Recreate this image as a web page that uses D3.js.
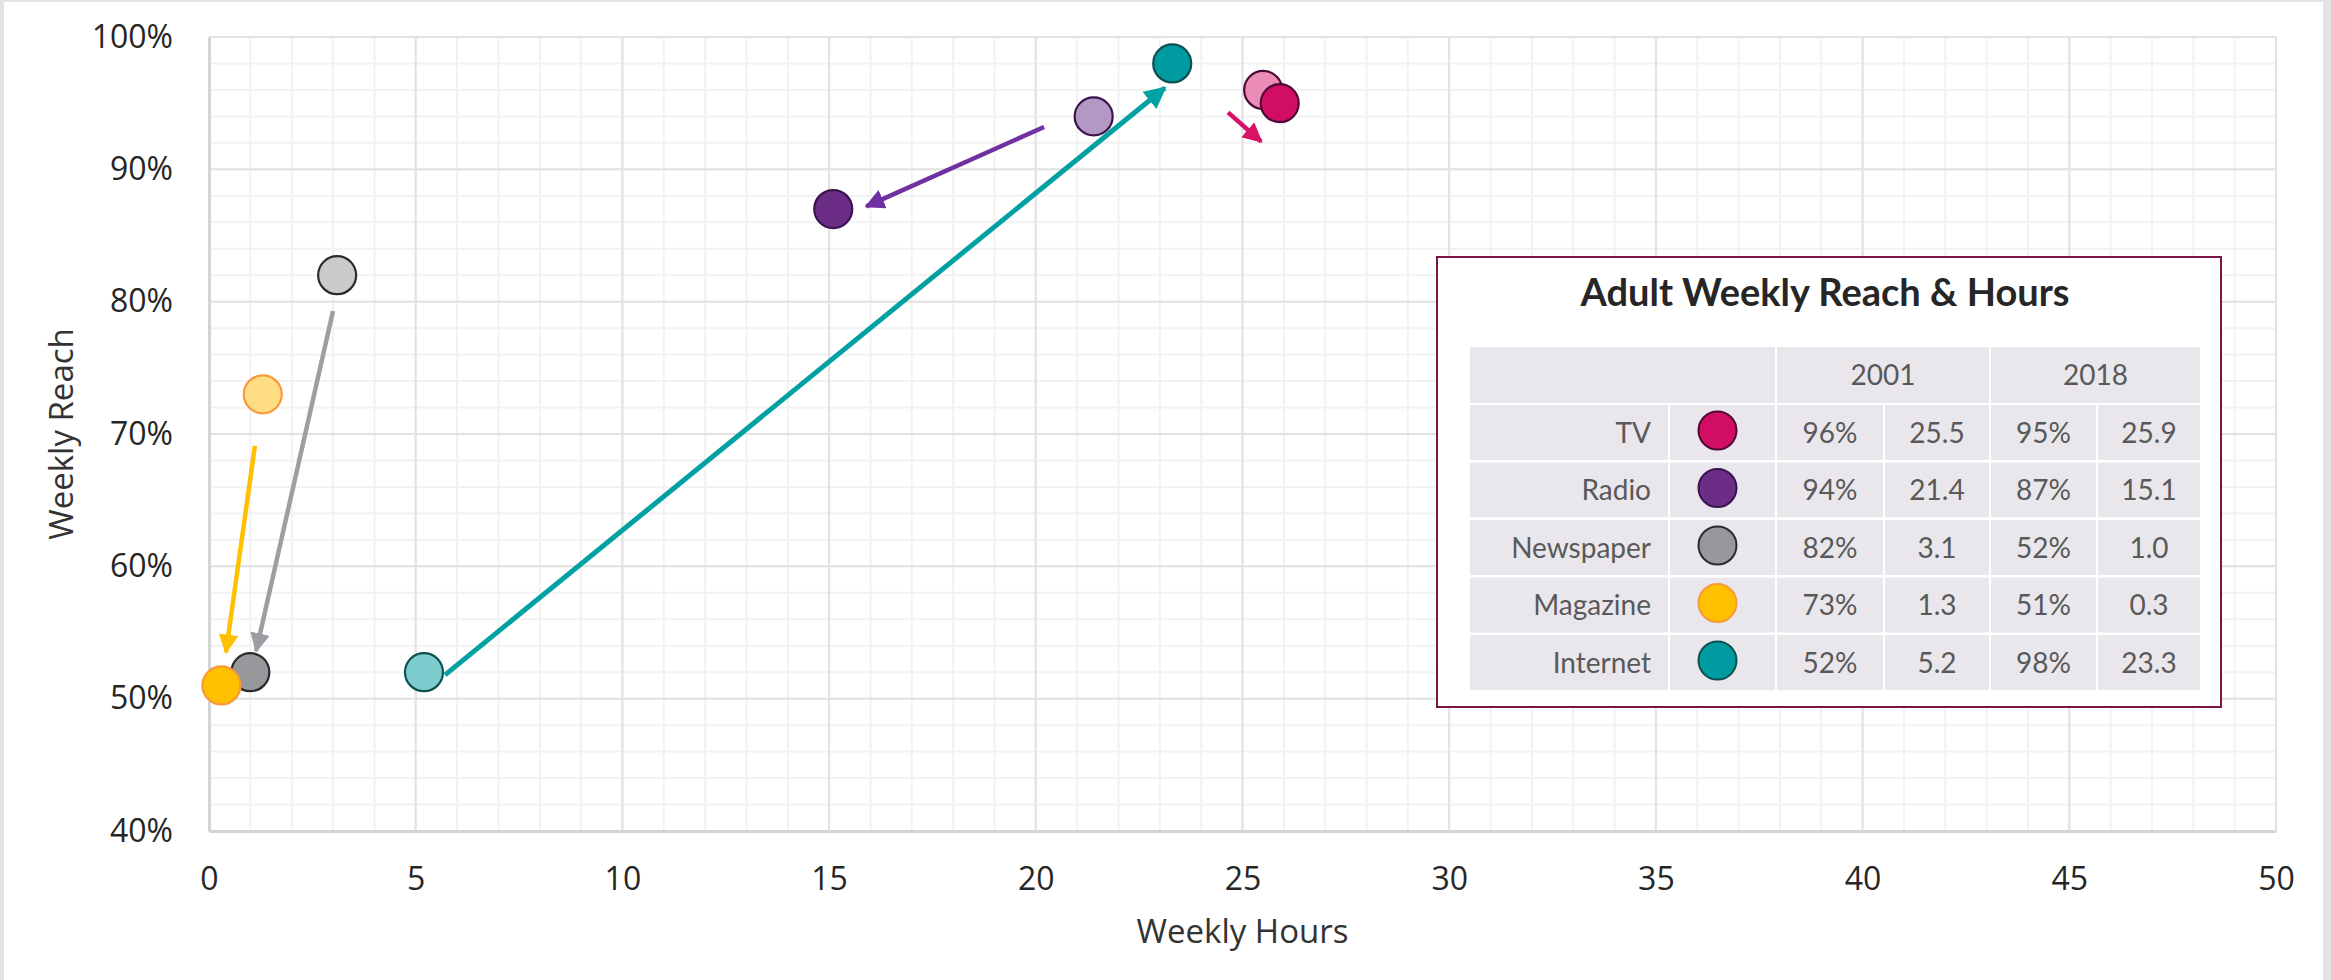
<!DOCTYPE html>
<html>
<head>
<meta charset="utf-8">
<script src="https://cdn.jsdelivr.net/npm/d3@7"></script>
<style>
  body { margin: 0; background: #e4e4e6; }
  svg { display: block; }
</style>
</head>
<body>
<div id="chart"></div>
<script>
var width = 2331, height = 980
var margin = { left: 209, right: 55, top: 37, bottom: 149 }

// data
var media = ["TV", "Radio", "Newspaper", "Magazine", "Internet"]
var reach2001 = [0.96, 0.94, 0.82, 0.73, 0.52]
var hours2001 = [25.5, 21.4, 3.1, 1.3, 5.2]
var reach2018 = [0.95, 0.87, 0.52, 0.51, 0.98]
var hours2018 = [25.9, 15.1, 1.0, 0.3, 23.3]

var fill2001 = ["#eb8cb6", "#b398c3", "#c9cacc", "#fedd85", "#7fcccf"]
var fill2018 = ["#d20e64", "#6c2d87", "#96989c", "#ffc000", "#009ba0"]
var strokes = ["#4e0a36", "#3a1450", "#2b2b2b", "#f99a3a", "#0d5052"]
var arrowColors = ["#d61367", "#7030a0", "#9c9ea3", "#ffc000", "#00a0a3"]

// hand drawn arrows, start and tip in data units
var arrowX1 = [24.65, 20.2, 3.0, 1.11, 5.71]
var arrowY1 = [0.943, 0.932, 0.793, 0.691, 0.518]
var arrowX2 = [25.45, 15.9, 1.14, 0.41, 23.12]
var arrowY2 = [0.921, 0.872, 0.536, 0.535, 0.9615]

var xTicks = [0, 5, 10, 15, 20, 25, 30, 35, 40, 45, 50]
var yTicks = [0.4, 0.5, 0.6, 0.7, 0.8, 0.9, 1.0]

var svg = d3.select("#chart")
  .append("svg")
  .attr("width", width)
  .attr("height", height)

// white card (screenshot has grey edges)
svg.append("rect")
  .attr("x", 4).attr("y", 2)
  .attr("width", 2319).attr("height", height - 2)
  .attr("fill", "#ffffff")

var x = d3.scaleLinear().domain([0, 50]).range([margin.left, width - margin.right])
var y = d3.scaleLinear().domain([0.4, 1.0]).range([height - margin.bottom, margin.top])

// minor grid
var grid = svg.append("g")
grid.selectAll(".xminor")
  .data(d3.range(0, 51, 1))
  .enter().append("line")
  .attr("x1", d => x(d)).attr("x2", d => x(d))
  .attr("y1", y(0.4)).attr("y2", y(1))
  .attr("stroke", "#f2f2f2").attr("stroke-width", 2)
grid.selectAll(".yminor")
  .data(d3.range(40, 101, 2))
  .enter().append("line")
  .attr("x1", x(0)).attr("x2", x(50))
  .attr("y1", d => y(d / 100)).attr("y2", d => y(d / 100))
  .attr("stroke", "#f2f2f2").attr("stroke-width", 2)

// major grid
grid.selectAll(".xmajor")
  .data(xTicks)
  .enter().append("line")
  .attr("x1", d => x(d)).attr("x2", d => x(d))
  .attr("y1", y(0.4)).attr("y2", y(1))
  .attr("stroke", "#e2e2e2").attr("stroke-width", 2)
grid.selectAll(".ymajor")
  .data(yTicks)
  .enter().append("line")
  .attr("x1", x(0)).attr("x2", x(50))
  .attr("y1", d => y(d)).attr("y2", d => y(d))
  .attr("stroke", "#e2e2e2").attr("stroke-width", 2)

// axes
var xAxis = svg.append("g")
  .attr("transform", "translate(0," + y(0.4) + ")")
  .call(d3.axisBottom(x).tickValues(xTicks).tickSize(0).tickPadding(36))
var yAxis = svg.append("g")
  .attr("transform", "translate(" + x(0) + ",0)")
  .call(d3.axisLeft(y).tickValues(yTicks).tickSize(0).tickPadding(36).tickFormat(d3.format(".0%")))

xAxis.select(".domain").attr("stroke", "#d4d4d4").attr("stroke-width", 3)
yAxis.select(".domain").attr("stroke", "#d4d4d4").attr("stroke-width", 3)
svg.selectAll(".tick text")
  .style("font-family", "'Open Sans', sans-serif")
  .style("font-size", "32px")
  .attr("fill", "#262626")

svg.append("text")
  .attr("x", (x(0) + x(50)) / 2)
  .attr("y", 943)
  .attr("text-anchor", "middle")
  .style("font-family", "'Open Sans', sans-serif")
  .style("font-size", "33px")
  .attr("fill", "#333333")
  .text("Weekly Hours")

svg.append("text")
  .attr("transform", "translate(73," + (y(0.4) + y(1)) / 2 + ") rotate(-90)")
  .attr("text-anchor", "middle")
  .style("font-family", "'Open Sans', sans-serif")
  .style("font-size", "33px")
  .attr("fill", "#333333")
  .text("Weekly Reach")

// points
var idx = d3.range(media.length)
svg.append("g")
  .selectAll("circle")
  .data(idx)
  .enter().append("circle")
  .attr("cx", i => x(hours2001[i]))
  .attr("cy", i => y(reach2001[i]))
  .attr("r", 19)
  .attr("fill", i => fill2001[i])
  .attr("stroke", i => strokes[i])
  .attr("stroke-width", 2.2)
svg.append("g")
  .selectAll("circle")
  .data(idx)
  .enter().append("circle")
  .attr("cx", i => x(hours2018[i]))
  .attr("cy", i => y(reach2018[i]))
  .attr("r", 19)
  .attr("fill", i => fill2018[i])
  .attr("stroke", i => strokes[i])
  .attr("stroke-width", 2.2)

// arrows
var defs = svg.append("defs")
idx.forEach(function (i) {
  defs.append("marker")
    .attr("id", "head" + i)
    .attr("viewBox", "0 0 10 10")
    .attr("refX", 9).attr("refY", 5)
    .attr("markerWidth", 4.4).attr("markerHeight", 4.4)
    .attr("markerUnits", "strokeWidth")
    .attr("orient", "auto")
    .append("path")
    .attr("d", "M0,0 L10,5 L0,10 Z")
    .attr("fill", arrowColors[i])
})
svg.append("g")
  .selectAll("line")
  .data(idx)
  .enter().append("line")
  .attr("x1", i => x(arrowX1[i]))
  .attr("y1", i => y(arrowY1[i]))
  .attr("x2", i => x(arrowX2[i]))
  .attr("y2", i => y(arrowY2[i]))
  .attr("stroke", i => arrowColors[i])
  .attr("stroke-width", i => i == 4 ? 5 : 4.5)
  .attr("marker-end", i => "url(#head" + i + ")")

// legend table
var box = { x: 1437, y: 257, w: 784, h: 450 }
var legend = svg.append("g")
legend.append("rect")
  .attr("x", box.x).attr("y", box.y)
  .attr("width", box.w).attr("height", box.h)
  .attr("fill", "#ffffff")
  .attr("stroke", "#7a1545").attr("stroke-width", 2)

legend.append("text")
  .attr("x", box.x + box.w / 2 - 4)
  .attr("y", 306)
  .attr("text-anchor", "middle")
  .style("font-family", "Lato, 'Open Sans', sans-serif")
  .style("font-weight", "bold")
  .style("font-size", "38px")
  .attr("fill", "#262626")
  .text("Adult Weekly Reach & Hours")

var colEdges = [1469, 1669, 1776, 1884, 1990, 2097, 2201]
var headerTop = 347, headerH = 56, rowTop = 405, rowStep = 57.5, rowH = 55
var cellFill = "#e9e7ec"
var tableFont = "Lato, 'Open Sans', sans-serif"

// header cells
var headerSpans = [[0, 2, ""], [2, 4, "2001"], [4, 6, "2018"]]
headerSpans.forEach(function (h) {
  legend.append("rect")
    .attr("x", colEdges[h[0]] + 1).attr("y", headerTop)
    .attr("width", colEdges[h[1]] - colEdges[h[0]] - 2).attr("height", headerH)
    .attr("fill", cellFill)
  legend.append("text")
    .attr("x", (colEdges[h[0]] + colEdges[h[1]]) / 2)
    .attr("y", headerTop + headerH / 2 + 10)
    .attr("text-anchor", "middle")
    .style("font-family", tableFont)
    .style("font-size", "28px")
    .attr("fill", "#595959")
    .text(h[2])
})

var fmtPct = d3.format(".0%"), fmtHrs = d3.format(".1f")
idx.forEach(function (i) {
  var top = rowTop + i * rowStep
  var cy = top + rowH / 2
  for (var c = 0; c < 6; c++) {
    legend.append("rect")
      .attr("x", colEdges[c] + 1).attr("y", top)
      .attr("width", colEdges[c + 1] - colEdges[c] - 2).attr("height", rowH)
      .attr("fill", cellFill)
  }
  legend.append("text")
    .attr("x", colEdges[1] - 18).attr("y", cy + 10)
    .attr("text-anchor", "end")
    .style("font-family", tableFont).style("font-size", "28px")
    .attr("fill", "#595959")
    .text(media[i])
  legend.append("circle")
    .attr("cx", (colEdges[1] + colEdges[2]) / 2 - 5).attr("cy", cy - 2)
    .attr("r", 19)
    .attr("fill", fill2018[i])
    .attr("stroke", strokes[i]).attr("stroke-width", 2)
  var vals = [fmtPct(reach2001[i]), fmtHrs(hours2001[i]), fmtPct(reach2018[i]), fmtHrs(hours2018[i])]
  vals.forEach(function (v, k) {
    legend.append("text")
      .attr("x", (colEdges[k + 2] + colEdges[k + 3]) / 2).attr("y", cy + 10)
      .attr("text-anchor", "middle")
      .style("font-family", tableFont).style("font-size", "28px")
      .attr("fill", "#595959")
      .text(v)
  })
})
</script>
</body>
</html>
